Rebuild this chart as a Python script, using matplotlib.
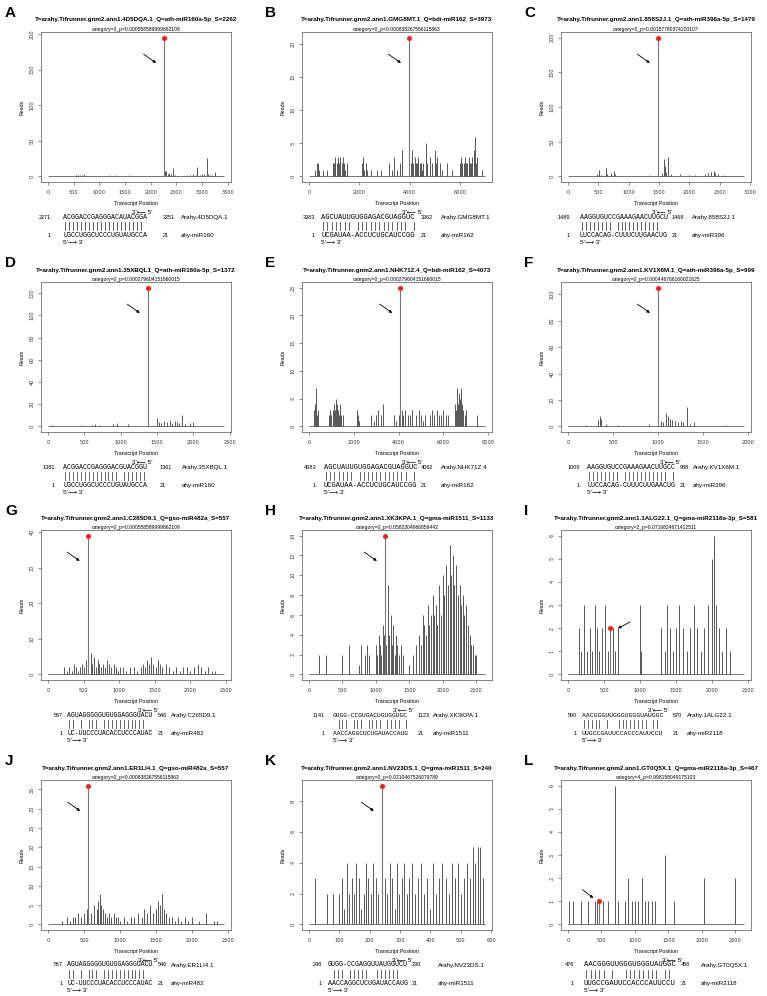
import matplotlib
matplotlib.use('Agg')
import matplotlib.pyplot as plt
from matplotlib.lines import Line2D

# canvas en pixels
W_PX, H_PX = 767, 996

LETTERS = list("ABCDEFGHIJKL")
TITLES = [
    "T=arahy.Tifrunner.gnm2.ann1.4D5DQA.1_Q=ath-miR160a-5p_S=2262",
    "T=arahy.Tifrunner.gnm2.ann1.GMG8MT.1_Q=bdi-miR162_S=3973",
    "T=arahy.Tifrunner.gnm2.ann1.858S2J.1_Q=ath-miR396a-5p_S=1479",
    "T=arahy.Tifrunner.gnm2.ann1.35XBQL1_Q=ath-miR160a-5p_S=1372",
    "T=arahy.Tifrunner.gnm2.ann1.NHK71Z.4_Q=bdi-miR162_S=4073",
    "T=arahy.Tifrunner.gnm2.ann1.KV1X6M.1_Q=ath-miR396a-5p_S=999",
    "T=arahy.Tifrunner.gnm2.ann1.C265D9.1_Q=gso-miR482a_S=557",
    "T=arahy.Tifrunner.gnm2.ann1.XK3KPA.1_Q=gma-miR1511_S=1133",
    "T=arahy.Tifrunner.gnm2.ann1.1ALG22.1_Q=gma-miR2118a-3p_S=581",
    "T=arahy.Tifrunner.gnm2.ann1.ER1LI4.1_Q=gso-miR482a_S=557",
    "T=arahy.Tifrunner.gnm2.ann1.NV23DS.1_Q=gma-miR1511_S=240",
    "T=arahy.Tifrunner.gnm2.ann1.GT0Q5X.1_Q=gma-miR2118a-3p_S=467",
]
SUBTITLES = [
    "category=0_p=0.000558589999662109",
    "category=0_p=0.000838267556115863",
    "category=0_p=0.00157780374220107",
    "category=0_p=0.000279604151660015",
    "category=0_p=0.000279604151660015",
    "category=0_p=0.000446766160021625",
    "category=0_p=0.000558589999662109",
    "category=0_p=0.0582304666859442",
    "category=2_p=0.0716824671412511",
    "category=0_p=0.000838267556115863",
    "category=0_p=0.0210467526079789",
    "category=4_p=0.998158049175103",
]
LENGTHS = [3430, 7000, 2900, 2420, 7860, 1955, 2470, 2630, 2450, 2445, 580, 2630]
PEAK_POS = [2262, 3973, 1479, 1372, 4073, 999, 557, 1133, 581, 557, 240, 467]
PEAK_READS = [195, 21, 200, 125, 25, 105, 39, 14, 2, 36, 9, 1]
X_STEP = [500, 2000, 500, 500, 2000, 500, 500, 500, 500, 500, 100, 500]
Y_STEP = [50, 5, 50, 20, 5, 20, 10, 2, 1, 5, 2, 1]

# lectures de degradome (hors site de clivage)
A_POS = [420, 500, 540, 580, 620, 660, 700, 1080, 1180, 1250, 1330, 1420, 1580, 1750, 1880, 1990, 2080, 2150,
         2280, 2300, 2330, 2360, 2400, 2440, 2480, 2700, 2760, 2820, 2880, 2910, 2960, 3000, 3050, 3090, 3120,
         3160, 3200, 3250, 3300]
A_H = [1, 1, 2, 2, 2, 2, 3, 1, 2, 1, 2, 1, 2, 1, 1, 1, 1, 1,
       7, 8, 4, 5, 3, 12, 2, 2, 2, 3, 2, 13, 2, 3, 4, 26, 3, 2, 2, 6, 1]
B_POS = [250, 300, 350, 400, 550, 700, 950, 1000, 1050, 1100, 1150, 1200, 1250, 1300, 1350, 1400, 1450, 1500,
         2100, 2150, 2200, 2250, 2300, 2450, 2700, 2850, 3200, 3300, 3400, 3500, 3600, 3700, 4050, 4100, 4150,
         4200, 4250, 4300, 4350, 4400, 4450, 4500, 4550, 4650, 4700, 4800, 4900, 5000, 5050, 5100, 5200, 5300,
         5500, 5700, 6000, 6050, 6100, 6150, 6200, 6250, 6300, 6350, 6400, 6450, 6500, 6550, 6600, 6650, 6700,
         6900]
B_H = [1, 2, 2, 1, 1, 1, 2, 2, 3, 2, 3, 2, 3, 2, 3, 2, 1, 2,
       2, 3, 1, 2, 1, 1, 1, 1, 2, 1, 3, 1, 2, 4, 2, 4, 2,
       3, 2, 2, 3, 2, 2, 1, 2, 5, 2, 3, 2, 4, 2, 3, 2, 1,
       2, 1, 2, 3, 2, 2, 3, 2, 2, 3, 2, 2, 3, 4, 6, 2, 3,
       1]
C_POS = [480, 510, 540, 620, 640, 700, 750, 780, 1100, 1250, 1350, 1550, 1580, 1600, 1620, 1650, 1700, 1850,
         2000, 2100, 2250, 2300, 2350, 2400, 2430, 2480, 2550, 2650]
C_H = [3, 10, 2, 12, 3, 5, 8, 3, 1, 1, 2, 5, 25, 15, 6, 28, 4, 3,
       2, 2, 4, 5, 6, 8, 5, 3, 2, 1]
D_POS = [50, 450, 600, 650, 700, 900, 950, 1100, 1500, 1520, 1560, 1600, 1640, 1680, 1700, 1740, 1780, 1800,
         1840, 1880, 1950, 1990]
D_H = [1, 1, 1, 2, 1, 2, 3, 2, 8, 4, 3, 5, 4, 6, 3, 5, 4, 3, 10, 2, 3, 4]
E_POS = [200, 250, 300, 350, 400, 900, 950, 1000, 1050, 1100, 1150, 1200, 1250, 1300, 1350, 1400, 1450, 1500,
         2150, 2200, 2250, 2750, 2900, 3000, 3100, 3200, 3300, 3800, 3900, 4000, 4150, 4200, 4300, 4400, 4500,
         4600, 4800, 4900, 5000, 5100, 5200, 5400, 5500, 5600, 5700, 5800, 5900, 6000, 6100, 6200, 6500, 6550,
         6600, 6650, 6700, 6750, 6800, 6850, 6900, 6950, 7000, 7500]
E_H = [3, 4, 7, 2, 3, 2, 3, 2, 3, 4, 3, 5, 4, 3, 2, 4, 2, 2,
       3, 2, 1, 2, 1, 2, 3, 2, 4, 2, 1, 2, 3, 2, 3, 2, 2,
       3, 2, 3, 2, 1, 2, 2, 3, 2, 3, 2, 2, 3, 2, 2, 4, 3,
       7, 4, 6, 5, 7, 4, 3, 2, 3, 2]
F_POS = [200, 330, 350, 370, 420, 550, 900, 1030, 1060, 1090, 1110, 1130, 1160, 1190, 1220, 1250, 1280, 1320,
         1360, 1400, 1750]
F_H = [1, 5, 8, 6, 2, 1, 2, 4, 3, 10, 8, 6, 5, 4, 3, 4, 3, 15, 2, 3, 1]
G_POS = [220, 260, 300, 330, 360, 390, 420, 450, 480, 510, 540, 600, 620, 650, 680, 700, 720, 740, 770, 800,
         830, 860, 890, 920, 950, 980, 1010, 1050, 1100, 1150, 1200, 1250, 1300, 1330, 1360, 1390, 1420, 1450,
         1480, 1510, 1540, 1570, 1600, 1650, 1700, 1750, 1800, 1850, 1900, 1950, 2000, 2050, 2100, 2150, 2200,
         2250, 2300, 2350]
G_H = [2, 1, 2, 1, 3, 2, 1, 2, 3, 2, 4, 6, 3, 5, 2, 4, 3, 2, 3, 2,
       4, 3, 2, 3, 2, 1, 2, 2, 1, 2, 2, 1, 2, 3, 2, 4, 3, 5,
       3, 2, 4, 3, 2, 3, 2, 1, 2, 1, 2, 2, 1, 2, 3, 2, 1,
       2, 1, 1]
H_POS = [150, 250, 500, 600, 750, 780, 830, 870, 900,
         1000, 1020, 1040, 1060, 1080, 1100, 1120, 1150, 1180, 1200, 1220, 1240, 1260, 1280, 1300, 1320, 1350,
         1380, 1400, 1500, 1550, 1600, 1650, 1680, 1700, 1720, 1750, 1780, 1800, 1820, 1850, 1870, 1900, 1920,
         1950, 1970, 2000, 2020, 2050, 2070, 2100, 2120, 2150, 2170, 2200, 2220, 2250, 2270, 2300, 2320, 2350,
         2370, 2400, 2420, 2450, 2480, 2500]
H_H = [2, 2, 2, 3, 1, 3, 2, 3, 2,
       3, 2, 4, 3, 2, 5, 4, 3, 9, 4, 6, 3, 5, 2, 4, 3, 2,
       3, 2, 1, 2, 3, 4, 3, 6, 5, 4, 7, 5, 6, 8, 6, 7, 5,
       9, 6, 10, 8, 11, 9, 13, 10, 12, 9, 11, 8, 9, 7, 8, 6, 7,
       5, 4, 3, 3, 2, 2]
I_POS = [150, 180, 220, 260, 300, 330, 370, 400, 430, 470, 520, 550, 620, 650, 700, 1000, 1020, 1300, 1350,
         1380, 1420, 1460, 1500, 1550, 1600, 1650, 1700, 1750, 1800, 1850, 1900, 1950, 2000, 2030, 2060, 2100,
         2150, 2200, 2250]
I_H = [2, 1, 3, 1, 2, 1, 3, 2, 1, 2, 3, 1, 2, 1, 2, 3, 1, 2, 1,
       3, 2, 1, 2, 3, 2, 1, 2, 3, 2, 1, 2, 3, 5, 6, 3, 2,
       1, 2, 1]
J_POS = [200, 260, 300, 340, 380, 420, 460, 500, 540, 600, 640, 680, 700, 720, 740, 760, 790, 820, 850, 880,
         910, 940, 970, 1000, 1050, 1100, 1150, 1200, 1250, 1300, 1340, 1380, 1420, 1460, 1500, 1530, 1560,
         1590, 1610, 1640, 1680, 1720, 1760, 1800, 1850, 1900, 1950, 2000, 2100, 2200, 2300, 2350]
J_H = [1, 2, 1, 2, 2, 3, 2, 3, 4, 3, 5, 4, 6, 8, 5, 4, 3, 2, 3, 2,
       3, 2, 2, 1, 2, 1, 2, 2, 3, 2, 4, 3, 5, 3, 4, 6, 5,
       8, 4, 3, 2, 2, 1, 2, 1, 2, 1, 2, 1, 3, 1, 1]
K_POS = [20, 60, 80, 100, 108, 116, 124, 132, 140, 148, 156, 164, 172, 180, 188, 196, 204, 212, 220, 228,
         250, 258, 266, 274, 282, 290, 298, 306, 314, 322, 330, 340, 350, 360, 370, 380, 390, 400, 410, 420,
         430, 440, 450, 460, 470, 480, 490, 500, 510, 520, 530, 540, 548, 556, 564, 572]
K_H = [3, 2, 2, 2, 3, 1, 4, 2, 3, 2, 4, 3, 1, 2, 4, 3, 2, 4, 3, 2,
       3, 2, 4, 3, 1, 4, 2, 3, 4, 2, 3, 4, 2, 3, 4, 2, 3, 1, 4, 2,
       3, 4, 3, 2, 4, 3, 4, 2, 3, 4, 3, 5, 4, 5, 5, 3]
L_POS = [20, 80, 200, 300, 400, 430, 460, 520, 600, 700, 750, 850, 900, 950, 1000, 1050, 1100, 1150, 1200, 1250,
         1300, 1450, 1580, 2030, 2490]
L_H = [1, 1, 1, 1, 1, 1, 1, 1, 1, 6, 1, 1, 2, 1, 1, 1, 2, 1, 1, 1, 1, 3, 1, 2, 2]

READ_POS = [A_POS, B_POS, C_POS, D_POS, E_POS, F_POS, G_POS, H_POS, I_POS, J_POS, K_POS, L_POS]
READ_H = [A_H, B_H, C_H, D_H, E_H, F_H, G_H, H_H, I_H, J_H, K_H, L_H]

# alignements cible / miARN
SITE_START = [2271, 3983, 1489, 1381, 4083, 1009, 567, 1141, 590, 567, 248, 476]
SITE_END = [2251, 3962, 1468, 1361, 4062, 988, 546, 1123, 570, 546, 230, 456]
TARGET_SEQ = [
    "ACGGACCGAGGGACAUACGGA", "AGCUAUUGUGGAGACGUAGGUC", "AAGGUGUCCGAAAGAACUUGCU",
    "ACGGACCGAGGGACGUACGGU", "AGCUAUUGUGGAGACGUAGGUC", "AAGGUGUCCGAAAGAACUUGCC",
    "AGUAGGGGGUGUGGAGGGUACU", "GUGG-CCGUGACUGUGGUGC", "AACGGGUUGGGUGGGUAUGGC",
    "AGUAGGGGGUGUGGAGGGUACU", "GUGG-CCGAGGUUAUGGUCU", "AACGGGUUGGGUGGGUAUGGC",
]
MIRNA_SEQ = [
    "UGCCUGGCUCCCUGUAUGCCA", "UCGAUAA-ACCUCUGCAUCCGG", "UUCCACAG-CUUUCUUGAACUG",
    "UGCCUGGCUCCCUGUAUGCCA", "UCGAUAA-ACCUCUGCAUCCGG", "UUCCACAG-CUUUCUUGAACUG",
    "UC-UUCCCUACACCUCCCAUAC", "AACCAGGCUCUGAUACCAUG", "UUGCCGAUUCCACCCAUUCCU",
    "UC-UUCCCUACACCUCCCAUAC", "AACCAGGCUCUGAUACCAUG", "UUGCCGAUUCCACCCAUUCCU",
]
GENES = ["Arahy.4D5DQA.1", "Arahy.GMG8MT.1", "Arahy.858S2J.1", "Arahy.35XBQL.1", "Arahy.NHK71Z.4",
         "Arahy.KV1X6M.1", "Arahy.C265D9.1", "Arahy.XK3KPA.1", "Arahy.1ALG22.1", "Arahy.ER1LI4.1",
         "Arahy.NV23DS.1", "Arahy.GT0Q5X.1"]
MIRNAS = ["ahy-miR160", "ahy-miR162", "ahy-miR396", "ahy-miR160", "ahy-miR162", "ahy-miR396",
          "ahy-miR482", "ahy-miR1511", "ahy-miR2118", "ahy-miR482", "ahy-miR1511", "ahy-miR2118"]

# mise en page (pixels)
COL_X = [41, 302, 561]
ROW_Y = [32, 282, 530, 780]
AX_W, AX_H = 190, 150
# (fin du numero de debut, debut sequence, fin sequence, numero de fin, nom) par panneau
ALN_X = [(51, 63, 147, 163, 181), (315, 321, 416, 420, 441), (570, 580, 667, 670, 692),
         (55, 63, 146, 160, 182), (316, 324, 416, 418, 441), (580, 587, 675, 677, 693),
         (63, 67, 153, 156, 165), (325, 333, 408, 418, 433), (577, 582, 663, 673, 687),
         (63, 67, 153, 156, 166), (322, 328, 407, 409, 438), (574, 584, 676, 681, 701)]

PAIRS = {("A", "U"), ("U", "A"), ("G", "C"), ("C", "G")}

SANS = ["Liberation Sans", "DejaVu Sans"]
MONO = ["Liberation Mono", "DejaVu Sans Mono"]
LINE_COL = "#3c3c3c"


def fx(px):
    return px / W_PX


def fy(py):
    return 1 - py / H_PX


fig = plt.figure(figsize=(W_PX / 100, H_PX / 100), dpi=100, facecolor="white")

for i in range(12):
    col, row = i % 3, i // 3
    left, top = COL_X[col], ROW_Y[row]
    ax = fig.add_axes([fx(left), fy(top + AX_H), AX_W / W_PX, AX_H / H_PX])

    length = LENGTHS[i]
    ymax = max(PEAK_READS[i], max(READ_H[i]))
    ax.set_xlim(-0.04 * length, 1.04 * length)
    ax.set_ylim(-0.04 * ymax, 1.04 * ymax)

    ax.hlines(0, 0, length, color=LINE_COL, lw=0.5)
    ax.vlines(READ_POS[i], 0, READ_H[i], color=LINE_COL, lw=0.6)
    ax.vlines(PEAK_POS[i], 0, PEAK_READS[i], color="#777777", lw=0.8)
    ax.plot(PEAK_POS[i], PEAK_READS[i], "o", color="#ff1a1a", ms=3.6, mec="none", zorder=5)

    # fleche vers le site de clivage
    px = (PEAK_POS[i] + 0.04 * length) / (1.08 * length)
    py = (PEAK_READS[i] + 0.04 * ymax) / (1.08 * ymax)
    if i == 8:
        ax.annotate("", xy=(px + 0.03, py - 0.01), xytext=(px + 0.12, py + 0.05), xycoords="axes fraction",
                    arrowprops=dict(arrowstyle="-|>", color="black", lw=0.6, mutation_scale=4))
    elif i == 11:
        ax.annotate("", xy=(px - 0.02, py + 0.01), xytext=(px - 0.10, py + 0.09), xycoords="axes fraction",
                    arrowprops=dict(arrowstyle="-|>", color="black", lw=0.6, mutation_scale=4))
    else:
        ax.annotate("", xy=(px - 0.03, py - 0.18), xytext=(px - 0.12, py - 0.10), xycoords="axes fraction",
                    arrowprops=dict(arrowstyle="-|>", color="black", lw=0.6, mutation_scale=4))

    ax.set_xticks(range(0, int(1.04 * length) + 1, X_STEP[i]))
    ax.set_yticks(range(0, int(1.04 * ymax) + 1, Y_STEP[i]))
    ax.tick_params(length=2, width=0.4, labelsize=3.6, colors="#333333")
    ax.tick_params(axis="x", pad=3.5)
    ax.tick_params(axis="y", labelrotation=90, pad=2.5)
    for lab in ax.get_yticklabels():
        lab.set_va("center")
    for sp in ax.spines.values():
        sp.set_linewidth(0.5)
        sp.set_color("#555555")
    ax.set_ylabel("Reads", fontsize=3.8, labelpad=4, family=SANS)

    cx = left + AX_W / 2
    base = top + AX_H
    fig.text(fx(cx), fy(base + 21), "Transcript Position", ha="center", va="center", fontsize=3.8, family=SANS)
    fig.text(fx(cx), fy(top - 12), TITLES[i], ha="center", va="center", fontsize=4.5,
             fontweight="bold", family=SANS)
    fig.text(fx(cx), fy(top - 3), SUBTITLES[i], ha="center", va="center", fontsize=3.6, family=SANS)
    fig.text(fx(left - 36 if col == 0 else left - 37), fy(top - 19), LETTERS[i], ha="left", va="center",
             fontsize=11, fontweight="bold", family=SANS)

    # alignement
    nr, sx, se, ex, lx = ALN_X[i]
    ex = max(ex, se + 5)
    lx = max(lx, ex + 13)
    tseq, mseq = TARGET_SEQ[i], MIRNA_SEQ[i]
    # taille de police ajustee a la largeur mesuree de la sequence (police a chasse fixe)
    char_w = (se - sx) / len(tseq)
    seq_fs = char_w / 0.6 * 0.72
    fig.text(fx(se + 6), fy(base + 30), "3'\u27f5 5'", ha="right", va="center", fontsize=4.6, family=SANS)
    fig.text(fx(nr), fy(base + 35), str(SITE_START[i]), ha="right", va="center", fontsize=4.0, family=SANS)
    fig.text(fx(sx), fy(base + 35), tseq, ha="left", va="center", fontsize=seq_fs, family=MONO)
    fig.text(fx(ex), fy(base + 35), str(SITE_END[i]), ha="left", va="center", fontsize=4.0, family=SANS)
    fig.text(fx(lx), fy(base + 35), GENES[i], ha="left", va="center", fontsize=4.5, family=SANS)
    for k, (a, b) in enumerate(zip(tseq, mseq)):
        if (a, b) in PAIRS:
            xk = fx(sx + (k + 0.5) * char_w)
            fig.add_artist(Line2D([xk, xk], [fy(base + 40), fy(base + 48)], lw=0.5, color="#222222"))
    fig.text(fx(nr), fy(base + 53), "1", ha="right", va="center", fontsize=4.0, family=SANS)
    fig.text(fx(sx), fy(base + 53), mseq, ha="left", va="center", fontsize=seq_fs, family=MONO)
    fig.text(fx(ex), fy(base + 53), "21", ha="left", va="center", fontsize=4.0, family=SANS)
    fig.text(fx(lx), fy(base + 53), MIRNAS[i], ha="left", va="center", fontsize=4.5, family=SANS)
    fig.text(fx(sx), fy(base + 60), "5'\u27f6 3'", ha="left", va="center", fontsize=4.6, family=SANS)

fig.savefig("out.png", dpi=100, facecolor="white")
